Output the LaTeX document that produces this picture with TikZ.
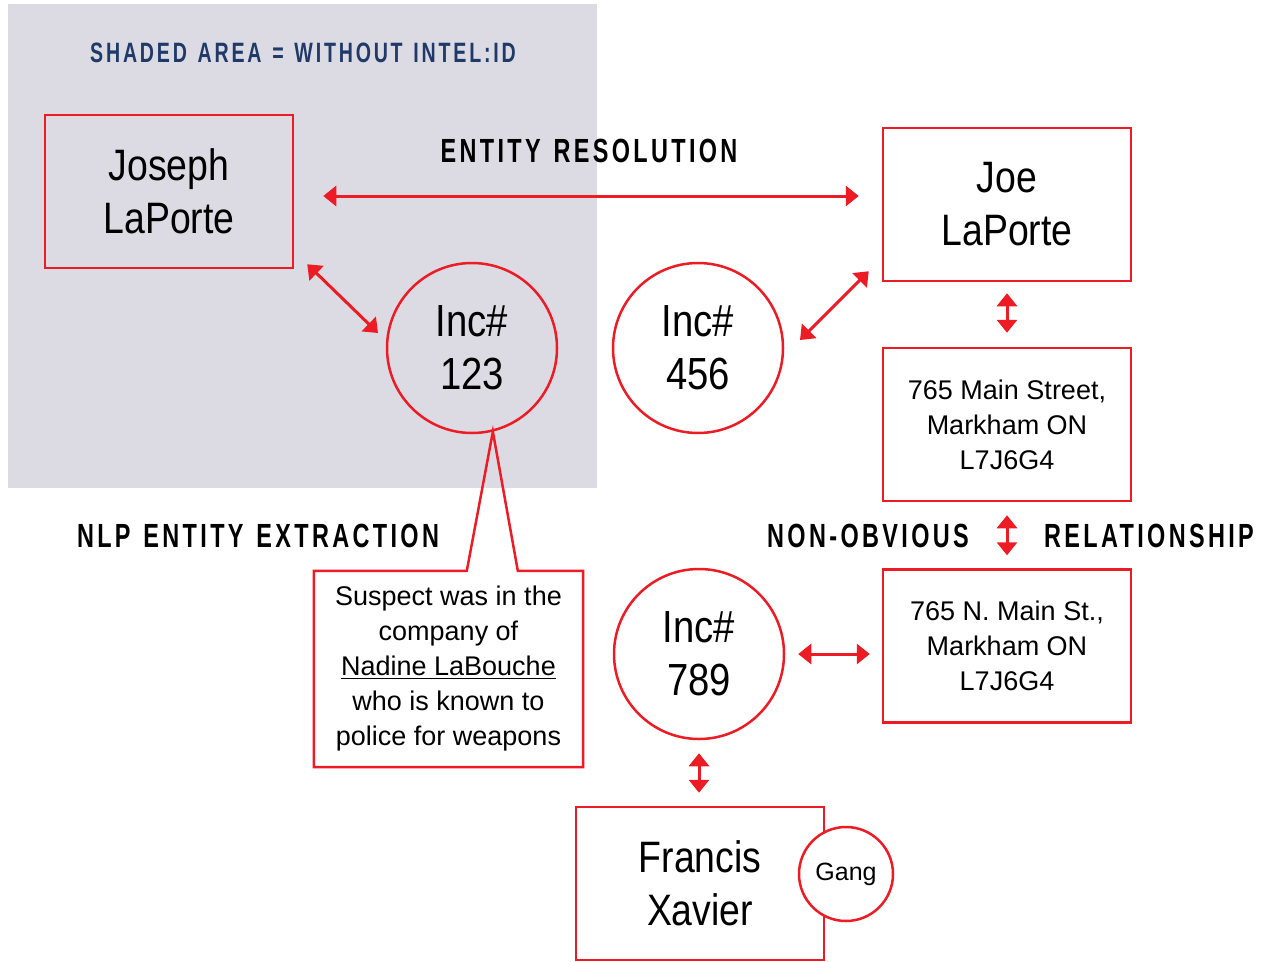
\documentclass[tikz,border=0pt]{standalone}
\usepackage{fontspec}
\setmainfont{Liberation Sans}
\newfontfamily\namef{Liberation Sans}[FakeStretch=0.85]
\newfontfamily\lblf{Liberation Sans}[FakeStretch=0.7,LetterSpace=10,WordSpace=1.3]
\usetikzlibrary{arrows.meta,calc}
\definecolor{rd}{HTML}{ED1C24}
\definecolor{navy}{HTML}{1F3A68}
\definecolor{shadecol}{HTML}{DCDBE4}
\newcommand\myul[1]{\setbox0\hbox{#1}\rlap{\rule[-3.5pt]{\wd0}{1.3pt}}\box0}
\tikzset{
  box/.style={draw=rd, line width=2.5pt, rectangle, minimum width=248pt, minimum height=153pt, inner sep=0pt, align=center},
  inc/.style={draw=rd, line width=2.5pt, circle, minimum size=170pt, inner sep=0pt, align=center, font=\namef\fontsize{45}{53}\selectfont},
  namebox/.style={box, font=\namef\fontsize{44}{53}\selectfont},
  addrbox/.style={box, font=\fontsize{27}{35}\selectfont},
  lbl/.style={font=\lblf\bfseries\fontsize{33.5}{40}\selectfont, inner sep=0pt},
  biarrow/.style={draw=rd, line width=3pt, {Triangle[length=13pt,width=20pt]}-{Triangle[length=13pt,width=20pt]}},
}
\begin{document}
\begin{tikzpicture}[x=1pt,y=-1pt]
\useasboundingbox (0,0) rectangle (1266,961);
\fill[fill=shadecol] (8,4) rectangle (597,488);
\node[font=\lblf\bfseries\fontsize{28}{34}\selectfont, text=navy, inner sep=0pt] (title) at (303,53) {SHADED AREA = WITHOUT INTEL:ID};

\node[namebox] (joseph) at (169,191.5) {Joseph\\LaPorte};
\node[namebox] (joe) at (1007,204.5) {Joe\\LaPorte};
\node[addrbox] (addr1) at (1007,424.5) {765 Main Street,\\Markham ON\\L7J6G4};
\node[addrbox] (addr2) at (1007,646) {765 N. Main St.,\\Markham ON\\L7J6G4};
\node[namebox] (francis) at (700,883.5) {Francis\\Xavier};
\node[draw=rd, line width=2.5pt, circle, fill=white, minimum size=94pt, inner sep=0pt, font=\fontsize{25}{30}\selectfont] (gang) at (846,874) {Gang};

\node[inc] (inc123) at (472,348) {Inc\#\\123};
\node[inc] (inc456) at (698,348) {Inc\#\\456};
\node[inc] (inc789) at (699,654) {Inc\#\\789};

\node[rectangle, minimum width=269pt, minimum height=196pt, inner sep=0pt, align=center, font=\fontsize{27}{35}\selectfont] (callout) at (448.5,669)
  {Suspect was in the\\company of\\\myul{Nadine LaBouche}\\who is known to\\police for weapons};
\draw[draw=rd, line width=2.5pt, line join=miter]
  ($(callout.north west)+(153,0)$) -- (callout.north west) -- (callout.south west)
  -- (callout.south east) -- (callout.north east) -- ($(callout.north west)+(204,0)$)
  -- (inc123.-76) -- cycle;

\node[lbl] (er) at (589,151) {ENTITY RESOLUTION};
\node[lbl] (nlp) at (258,536) {NLP ENTITY EXTRACTION};
\node[lbl] (nonob) at (868,536) {NON-OBVIOUS};
\node[lbl] (rel) at (1149,536) {RELATIONSHIP};

\draw[biarrow] ([shift={(29,4.5)}]joseph.east) -- ([shift={(-23,-8.5)}]joe.west);
\draw[biarrow] ([shift={(13,-5)}]joseph.south east) -- ([shift={(-94,-15)}]inc123.center);
\draw[biarrow] ([shift={(102,-8)}]inc456.center) -- ([shift={(-13,-11)}]joe.south west);
\draw[biarrow, shorten <=11pt, shorten >=14pt] (joe.south) -- (addr1.north);
\draw[biarrow, shorten <=13pt, shorten >=13pt] (addr1.south) -- (addr2.north);
\draw[biarrow, shorten <=13pt, shorten >=12pt] (inc789.east) -- (inc789.east -| addr2.west);
\draw[biarrow, shorten <=13pt, shorten >=13pt] (inc789.south) -- (inc789.south |- francis.north);
\end{tikzpicture}
\end{document}
